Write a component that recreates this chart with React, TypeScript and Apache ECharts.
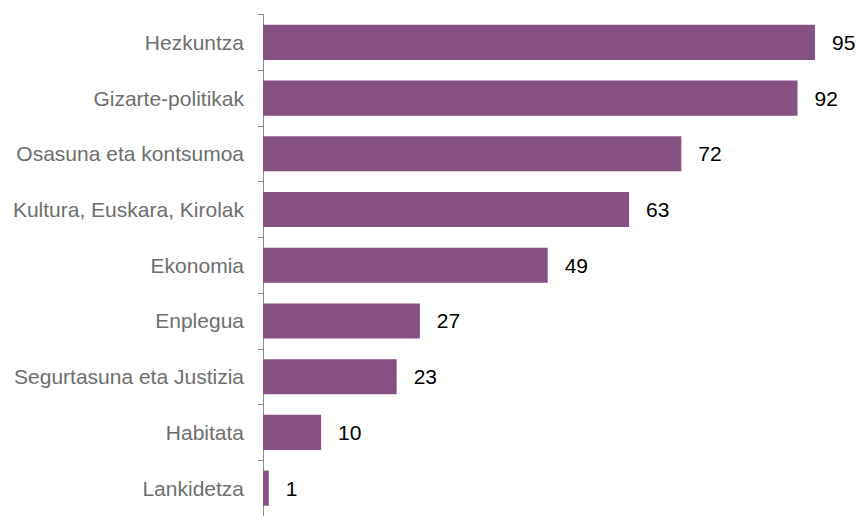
import React, { useEffect, useRef } from "react";
import * as echarts from "echarts";

const categories = [
  "Hezkuntza",
  "Gizarte-politikak",
  "Osasuna eta kontsumoa",
  "Kultura, Euskara, Kirolak",
  "Ekonomia",
  "Enplegua",
  "Segurtasuna eta Justizia",
  "Habitata",
  "Lankidetza",
];
const values = [95, 92, 72, 63, 49, 27, 23, 10, 1];

export default function App() {
  const ref = useRef<HTMLDivElement>(null);
  useEffect(() => {
    if (!ref.current) return;
    const chart = echarts.init(ref.current, undefined, { renderer: "svg" });
    chart.setOption({
      animation: false,
      grid: { left: 263, right: 12, top: 14.5, bottom: -5, containLabel: false },
      xAxis: {
        type: "value",
        min: 0,
        max: 100,
        show: false,
      },
      yAxis: {
        type: "category",
        inverse: true,
        data: categories,
        axisLine: { show: true, lineStyle: { color: "#8c8c8c", width: 1 } },
        axisTick: { show: true, length: 5, lineStyle: { color: "#8c8c8c" } },
        axisLabel: {
          margin: 19,
          color: "#6e6e6e",
          fontSize: 21,
          fontFamily: "Liberation Sans, Arial, sans-serif",
        },
        splitLine: { show: false },
      },
      series: [
        {
          type: "bar",
          data: values,
          barCategoryGap: "37%",
          itemStyle: { color: "#875083" },
          label: {
            show: true,
            position: "right",
            distance: 17,
            color: "#000",
            fontSize: 21,
            fontFamily: "Liberation Sans, Arial, sans-serif",
          },
        },
      ],
    });
    return () => chart.dispose();
  }, []);
  return (
    <div
      ref={ref}
      style={{ position: "absolute", left: 0, top: 0, width: 856, height: 516 }}
    />
  );
}
